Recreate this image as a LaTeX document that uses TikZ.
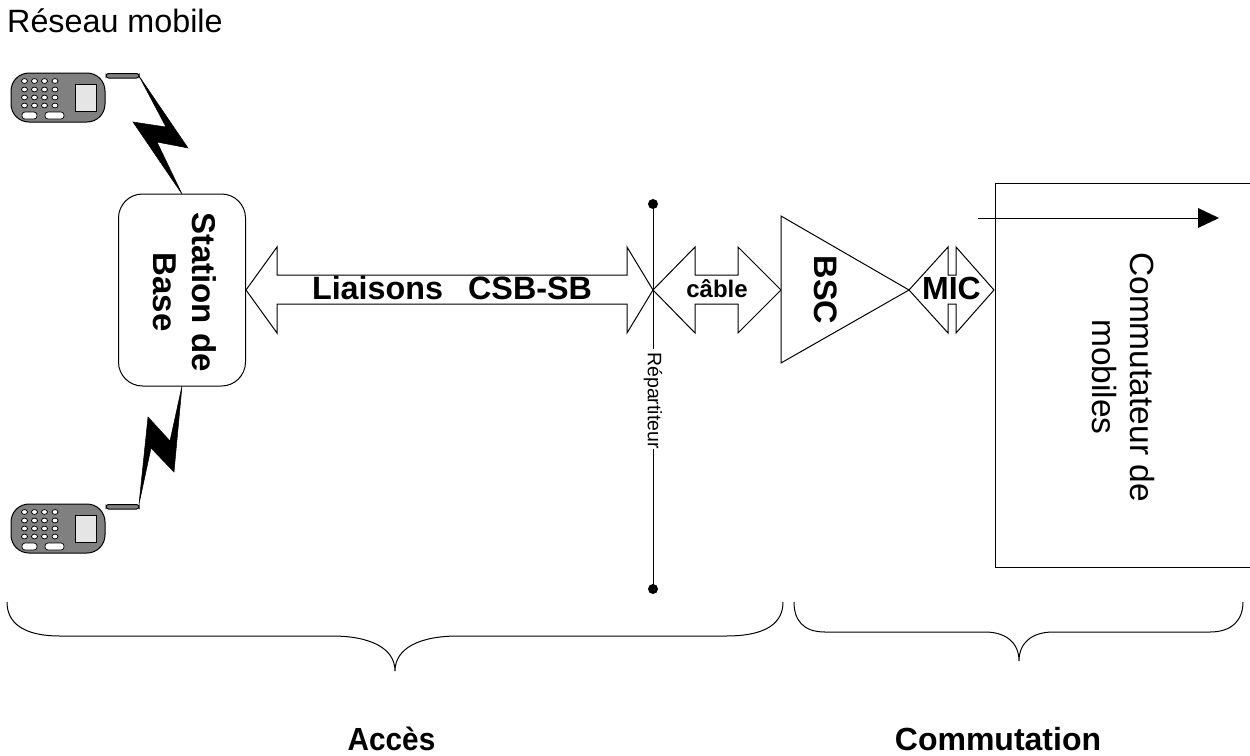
\documentclass[tikz,border=0pt]{standalone}
\usepackage{fontspec}
\setmainfont{Liberation Sans}
\tikzset{
  wire/.style={draw=black,line width=1pt},
  lightning/.style={fill=black,draw=black,line width=0.5pt,line join=miter},
  phonebody/.style={draw=black,fill=black!50,line width=1pt,rounded corners=18pt},
  key/.style={draw=black,fill=white,line width=.7pt},
  lbl/.style={inner sep=0pt,align=center},
  vert/.style={lbl,rotate=-90},
}
\newcommand{\phoneat}[2]{%
  \begin{scope}[shift={(#1,#2)}]
    \draw[phonebody] (11,73) rectangle (105,122);
    \draw[draw=black,fill=black!10,line width=1pt] (75,84) rectangle (96,111);
    \foreach \yy in {81,89.5,97.5,105.5}{
      \foreach \xx in {24.5,34.5,44.5,55}{
        \draw[key] (\xx,\yy) ellipse (3pt and 2.4pt);
      }
    }
    \draw[key,rounded corners=3pt] (22,112) rectangle (37,119);
    \draw[key,rounded corners=3pt] (45,112) rectangle (64,119);
    \draw[draw=black,fill=black!50,line width=1pt,rounded corners=2.5pt] (106,73.5) rectangle (139,78);
  \end{scope}}
\begin{document}
\begin{tikzpicture}[x=1pt,y=-1pt]
\useasboundingbox (0,0) rectangle (1250,755);
% title
\node[lbl,anchor=base west,font=\fontsize{32.3}{37}\selectfont] (title) at (7,32) {Réseau mobile};
% phones
\phoneat{0}{0}
\phoneat{0}{431}
% lightning
\fill[lightning] (139,76) -- (188,148) -- (157,142) -- (182,194) -- (133,122) -- (166,127) -- cycle;
\fill[lightning] (139,504) -- (148,417) -- (170,441) -- (182,386) -- (174,472) -- (151,448) -- cycle;
% station
\node[draw=black,line width=1pt,fill=white,rounded corners=24pt,minimum width=127pt,minimum height=192pt,inner sep=0pt] (sb) at (182,290) {};
\node[vert,font=\bfseries\fontsize{33}{38.5}\selectfont] (sbl) at (185,292) {Station de\\Base};
% big arrow
\draw[wire,fill=white,line join=miter] (246,290) -- (277,247) -- (277,275) -- (627,275) -- (627,247) -- (653,290) -- (627,333) -- (627,304) -- (277,304) -- (277,333) -- cycle;
\node[lbl,font=\bfseries\fontsize{32.3}{37}\selectfont] (csb) at (452,288) {Liaisons\hspace{.5em} CSB-SB};
% cable arrow
\draw[wire,fill=white] (653,290) -- (695,247) -- (695,275) -- (738,275) -- (738,247) -- (781,290) -- (738,333) -- (738,304) -- (695,304) -- (695,333) -- cycle;
\node[lbl,font=\bfseries\fontsize{24}{28}\selectfont] (cable) at (717,289) {câble};
% repartiteur
\coordinate (rt) at (653,204);
\coordinate (rb) at (653,589);
\draw[wire] (rt) -- (653,349);
\node[vert,font=\fontsize{19.5}{23}\selectfont] (rep) at (653,400.5) {Répartiteur};
\draw[wire] (653,449) -- (rb);
\fill (rt) circle (5pt);
\fill (rb) circle (5pt);
% BSC
\draw[wire,fill=white] (781,216) -- (909,290) -- (781,363) -- cycle;
\node[vert,font=\bfseries\fontsize{32.5}{38}\selectfont] (bsc) at (826,290) {BSC};
% MIC arrow
\draw[wire,fill=white] (909,290) -- (948,247) -- (948,275) -- (956,275) -- (956,247) -- (994,290) -- (956,333) -- (956,304) -- (948,304) -- (948,333) -- cycle;
\node[lbl,font=\bfseries\fontsize{32}{37}\selectfont] (mic) at (951.5,288) {MIC};
% commutateur
\draw[wire] (1250,183) -- (995,183) -- (995,567) -- (1250,567);
\coordinate (as) at (978,218);
\coordinate (ae) at (1219,218);
\draw[wire] (as) -- (1198,218);
\fill (ae) -- (1198,208) -- (1198,228) -- cycle;
\node[vert,font=\fontsize{33.5}{38}\selectfont] (com) at (1123,377) {Commutateur de\\mobiles};
% braces
\draw[wire] (7,602) .. controls (7,622) and (22,636) .. (60,636) -- (332,636) .. controls (370,636) and (395,648) .. (395,671) .. controls (395,648) and (420,636) .. (458,636) -- (726,636) .. controls (768,636) and (783,622) .. (783,602);
\draw[wire] (794,602) .. controls (794,620) and (803,632) .. (825,632) -- (985,632) .. controls (1005,632) and (1019,642) .. (1019,661) .. controls (1019,642) and (1033,632) .. (1053,632) -- (1210,632) .. controls (1232,632) and (1243,620) .. (1243,602);
\node[lbl,xscale=.93,font=\bfseries\fontsize{32}{37}\selectfont,anchor=base] (acces) at (391.5,750.5) {Accès};
\node[lbl,font=\bfseries\fontsize{32}{37}\selectfont,anchor=base] (comm) at (998,750.5) {Commutation};
\end{tikzpicture}
\end{document}
